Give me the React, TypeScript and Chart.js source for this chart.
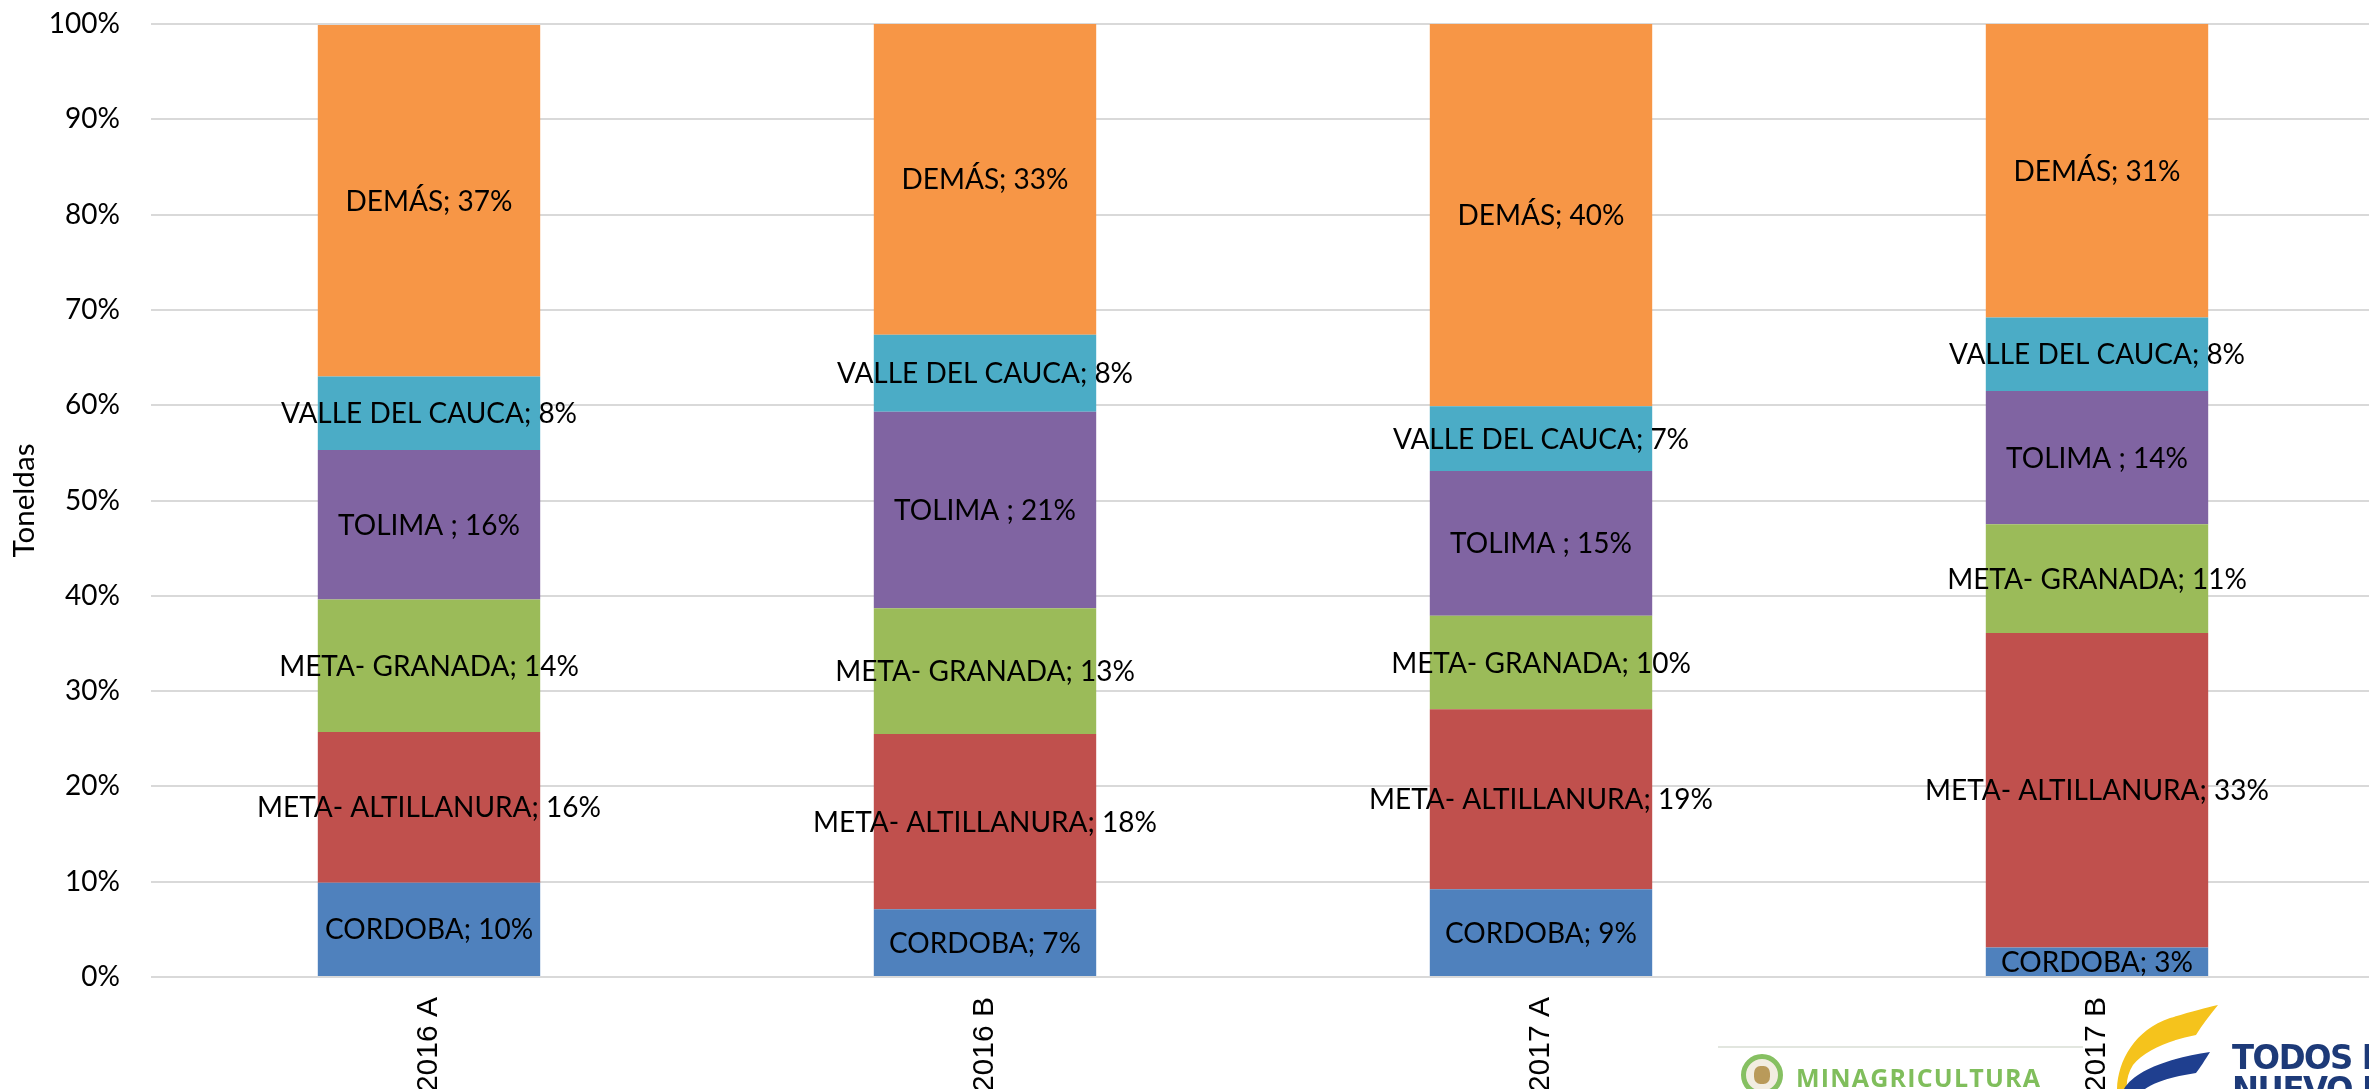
import React, { useEffect, useRef } from "react";
import { Chart, registerables } from "chart.js";

Chart.register(...registerables);

const categories = ["2016 A", "2016 B", "2017 A", "2017 B"];
const seriesNames = ["CORDOBA", "META- ALTILLANURA", "META- GRANADA", "TOLIMA ", "VALLE DEL CAUCA", "DEMÁS"];
const cordoba = [9.9, 7.1, 9.2, 3.1];
const metaAltillanura = [15.8, 18.4, 18.9, 33.0];
const metaGranada = [13.9, 13.2, 9.8, 11.4];
const tolima = [15.7, 20.6, 15.2, 14.0];
const valleDelCauca = [7.7, 8.1, 6.8, 7.7];
const demas = [36.9, 32.6, 40.1, 30.8];
const seriesValues = [cordoba, metaAltillanura, metaGranada, tolima, valleDelCauca, demas];
const seriesColors = ["#4F81BD", "#C0504D", "#9BBB59", "#8064A2", "#4BACC6", "#F79646"];
const yTicks = [0, 10, 20, 30, 40, 50, 60, 70, 80, 90, 100];
const yTitle = "Toneldas";

const labelPlugin = {
  id: "segmentLabels",
  afterDatasetsDraw(chart: any) {
    const ctx = chart.ctx;
    ctx.save();
    ctx.font = "28px Lato";
    ctx.fillStyle = "#000";
    ctx.textAlign = "center";
    ctx.textBaseline = "middle";
    chart.data.datasets.forEach((ds: any, i: number) => {
      const meta = chart.getDatasetMeta(i);
      meta.data.forEach((bar: any, j: number) => {
        const p = bar.getProps(["x", "y", "base"], true);
        ctx.fillText(`${ds.label}; ${Math.round(ds.data[j])}%`, p.x, (p.y + p.base) / 2 + 1);
      });
    });
    // y axis title
    const area = chart.chartArea;
    ctx.font = "28px Lato";
    const w = ctx.measureText(yTitle).width;
    const size = Math.max(20, Math.min(40, (28 * 114) / w));
    ctx.font = `${size}px Lato`;
    ctx.translate(24, (area.top + area.bottom) / 2);
    ctx.rotate(-Math.PI / 2);
    ctx.fillText(yTitle, 0, 0);
    ctx.restore();
  },
};

function ChartCanvas() {
  const ref = useRef<HTMLCanvasElement>(null);
  useEffect(() => {
    if (!ref.current) return;
    const chart = new Chart(ref.current, {
      type: "bar",
      data: {
        labels: categories,
        datasets: seriesNames.map((name, i) => ({
          label: name,
          data: seriesValues[i],
          backgroundColor: seriesColors[i],
          borderWidth: 0,
          categoryPercentage: 1,
          barPercentage: 0.4,
        })),
      },
      options: {
        responsive: false,
        maintainAspectRatio: false,
        animation: false,
        devicePixelRatio: 1,
        layout: { padding: { top: 24, right: 0, bottom: 0, left: 0 } },
        plugins: { legend: { display: false }, tooltip: { enabled: false } },
        scales: {
          x: {
            stacked: true,
            grid: { display: false, drawTicks: false },
            border: { display: false },
            ticks: {
              minRotation: 90,
              maxRotation: 90,
              padding: 20,
              color: "#000",
              font: { family: "'Liberation Sans'", size: 30 },
            },
            afterFit(scale: any) {
              scale.height = 112;
              scale.paddingLeft = 0;
              scale.paddingRight = 0;
            },
          },
          y: {
            stacked: true,
            min: 0,
            max: 100,
            afterBuildTicks(scale: any) {
              scale.ticks = yTicks.map((v) => ({ value: v }));
            },
            grid: { color: "#d9d9d9", lineWidth: 2, drawTicks: false },
            border: { display: false },
            ticks: {
              padding: 31,
              color: "#000",
              font: { family: "Lato", size: 28 },
              callback: (v: any) => `${v}%`,
            },
            afterFit(scale: any) {
              scale.width = 151;
              scale.paddingTop = 0;
              scale.paddingBottom = 0;
            },
          },
        },
      },
      plugins: [labelPlugin],
    });
    return () => chart.destroy();
  }, []);
  return <canvas ref={ref} width={2375} height={1089} style={{ display: "block", width: 2375, height: 1089 }} />;
}

export default function App() {
  return (
    <div style={{ position: "fixed", left: 0, top: 0, width: 2369, height: 1089, overflow: "hidden", background: "#fff" }}>
      <ChartCanvas />
      <div style={{ position: "absolute", left: 1718, top: 1046, width: 365, height: 2, background: "#e2e6df" }} />
      <div
        style={{
          position: "absolute",
          left: 1741,
          top: 1054,
          width: 42,
          height: 42,
          borderRadius: "50%",
          border: "5px solid #86c062",
          background: "#f2ede2",
          boxSizing: "border-box",
        }}
      />
      <div
        style={{
          position: "absolute",
          left: 1754,
          top: 1066,
          width: 16,
          height: 18,
          borderRadius: "40%",
          background: "#b99a5a",
        }}
      />
      <div
        style={{
          position: "absolute",
          left: 1796,
          top: 1060,
          fontFamily: "'Open Sans'",
          fontWeight: 700,
          fontSize: 25,
          color: "#80be5c",
          letterSpacing: 1.2,
          whiteSpace: "nowrap",
        }}
      >
        MINAGRICULTURA
      </div>
      <svg style={{ position: "absolute", left: 0, top: 0 }} width={2369} height={1089}>
        <path
          d="M2117 1089 C2118 1060 2135 1030 2170 1018 C2190 1012 2205 1008 2218 1005 C2210 1015 2202 1025 2196 1035 C2170 1040 2145 1050 2133 1065 C2128 1073 2126 1082 2127 1089 Z"
          fill="#f5c31c"
        />
        <path
          d="M2124 1089 C2135 1070 2170 1058 2210 1052 C2205 1060 2200 1068 2196 1073 C2175 1076 2155 1082 2145 1089 Z"
          fill="#1f3f8f"
        />
      </svg>
      <div
        style={{
          position: "absolute",
          left: 2232,
          top: 1041,
          fontFamily: "'DejaVu Sans'",
          fontWeight: 700,
          fontSize: 34,
          lineHeight: "32px",
          color: "#1d3a78",
          letterSpacing: -1.5,
          whiteSpace: "nowrap",
          transform: "scaleX(0.95)",
          transformOrigin: "left top",
        }}
      >
        TODOS POR UN
        <br />
        NUEVO PAÍS
      </div>
    </div>
  );
}
